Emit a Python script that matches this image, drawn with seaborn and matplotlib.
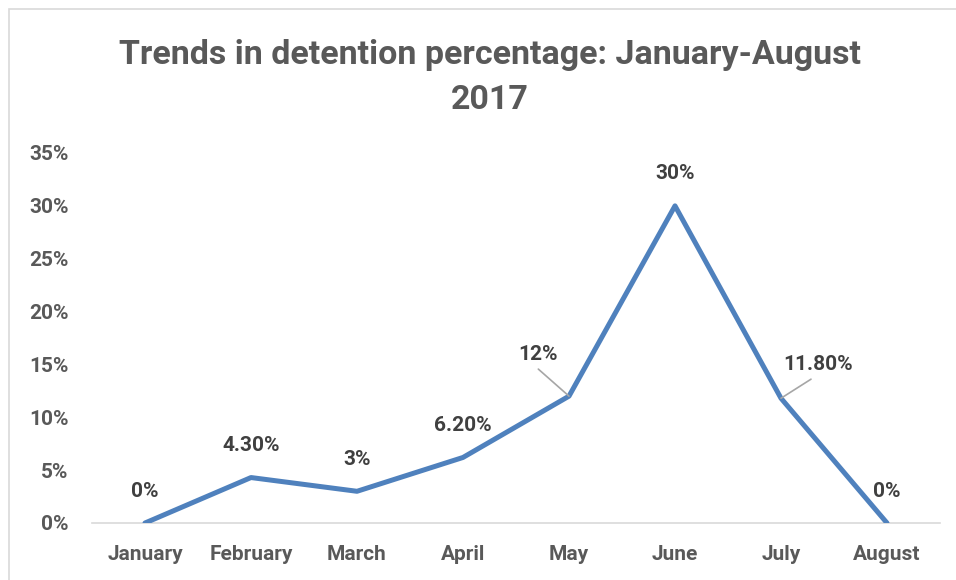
import matplotlib
matplotlib.use("Agg")
import matplotlib.pyplot as plt
import seaborn as sns
import pandas as pd
from matplotlib.patches import Rectangle

# data
months = ["January", "February", "March", "April", "May", "June", "July", "August"]
detention = [0.0, 4.3, 3.0, 6.2, 12.0, 30.0, 11.8, 0.0]
labels = ["0%", "4.30%", "3%", "6.20%", "12%", "30%", "11.80%", "0%"]
y_ticks = [0, 5, 10, 15, 20, 25, 30, 35]

sns.set_style("white")
plt.rcParams["font.family"] = ["Roboto", "DejaVu Sans"]

df = pd.DataFrame({"month": months, "pct": detention})

fig = plt.figure(figsize=(9.56, 5.8), dpi=100)
ax = fig.add_axes([92 / 956, 57 / 580, 848 / 956, 370 / 580])

sns.lineplot(data=df, x="month", y="pct", sort=False, color="#4F81BD", lw=3.6, ax=ax)

ax.set_xlim(-0.5, 7.5)
ax.set_ylim(0, 35)
ax.set_yticks(y_ticks)
ax.set_yticklabels([f"{t}%" for t in y_ticks])
ax.set_xlabel("")
ax.set_ylabel("")
ax.tick_params(axis="both", length=0, labelcolor="#595959", labelsize=15)
ax.tick_params(axis="y", pad=17)
ax.tick_params(axis="x", pad=16)
for lab in ax.get_xticklabels() + ax.get_yticklabels():
    lab.set_fontweight("bold")

for s in ["top", "right", "left"]:
    ax.spines[s].set_visible(False)
ax.spines["bottom"].set_color("#D9D9D9")
ax.spines["bottom"].set_linewidth(1.2)
ax.spines["bottom"].set_zorder(0)

# data labels (May and July have leader lines)
for i, (v, t) in enumerate(zip(detention, labels)):
    if months[i] == "May":
        ax.annotate(t, (i, v), xytext=(-22, 30), textcoords="offset points",
                    ha="center", va="center", fontsize=15, fontweight="bold", color="#404040",
                    arrowprops=dict(arrowstyle="-", color="#A6A6A6", lw=1.2,
                                    relpos=(0.35, 0), shrinkA=2, shrinkB=0))
    elif months[i] == "July":
        ax.annotate(t, (i, v), xytext=(27, 24), textcoords="offset points",
                    ha="center", va="center", fontsize=15, fontweight="bold", color="#404040",
                    arrowprops=dict(arrowstyle="-", color="#A6A6A6", lw=1.2,
                                    relpos=(0.5, 0), shrinkA=2, shrinkB=0))
    else:
        ax.annotate(t, (i, v), xytext=(0, 23), textcoords="offset points",
                    ha="center", va="center", fontsize=15, fontweight="bold", color="#404040")

fig.text(490 / 956, 1 - 55 / 580, "Trends in detention percentage: January-August",
         ha="center", va="center", fontsize=24.5, fontweight="bold", color="#595959")
fig.text(490 / 956, 1 - 100 / 580, "2017",
         ha="center", va="center", fontsize=24.5, fontweight="bold", color="#595959")

# chart border
fig.patches.append(Rectangle((9 / 956, -0.1), 1.2, 1.1 - 9 / 580, transform=fig.transFigure,
                             fill=False, edgecolor="#D9D9D9", lw=1.2))

plt.savefig("out.png", dpi=100)
plt.close()
